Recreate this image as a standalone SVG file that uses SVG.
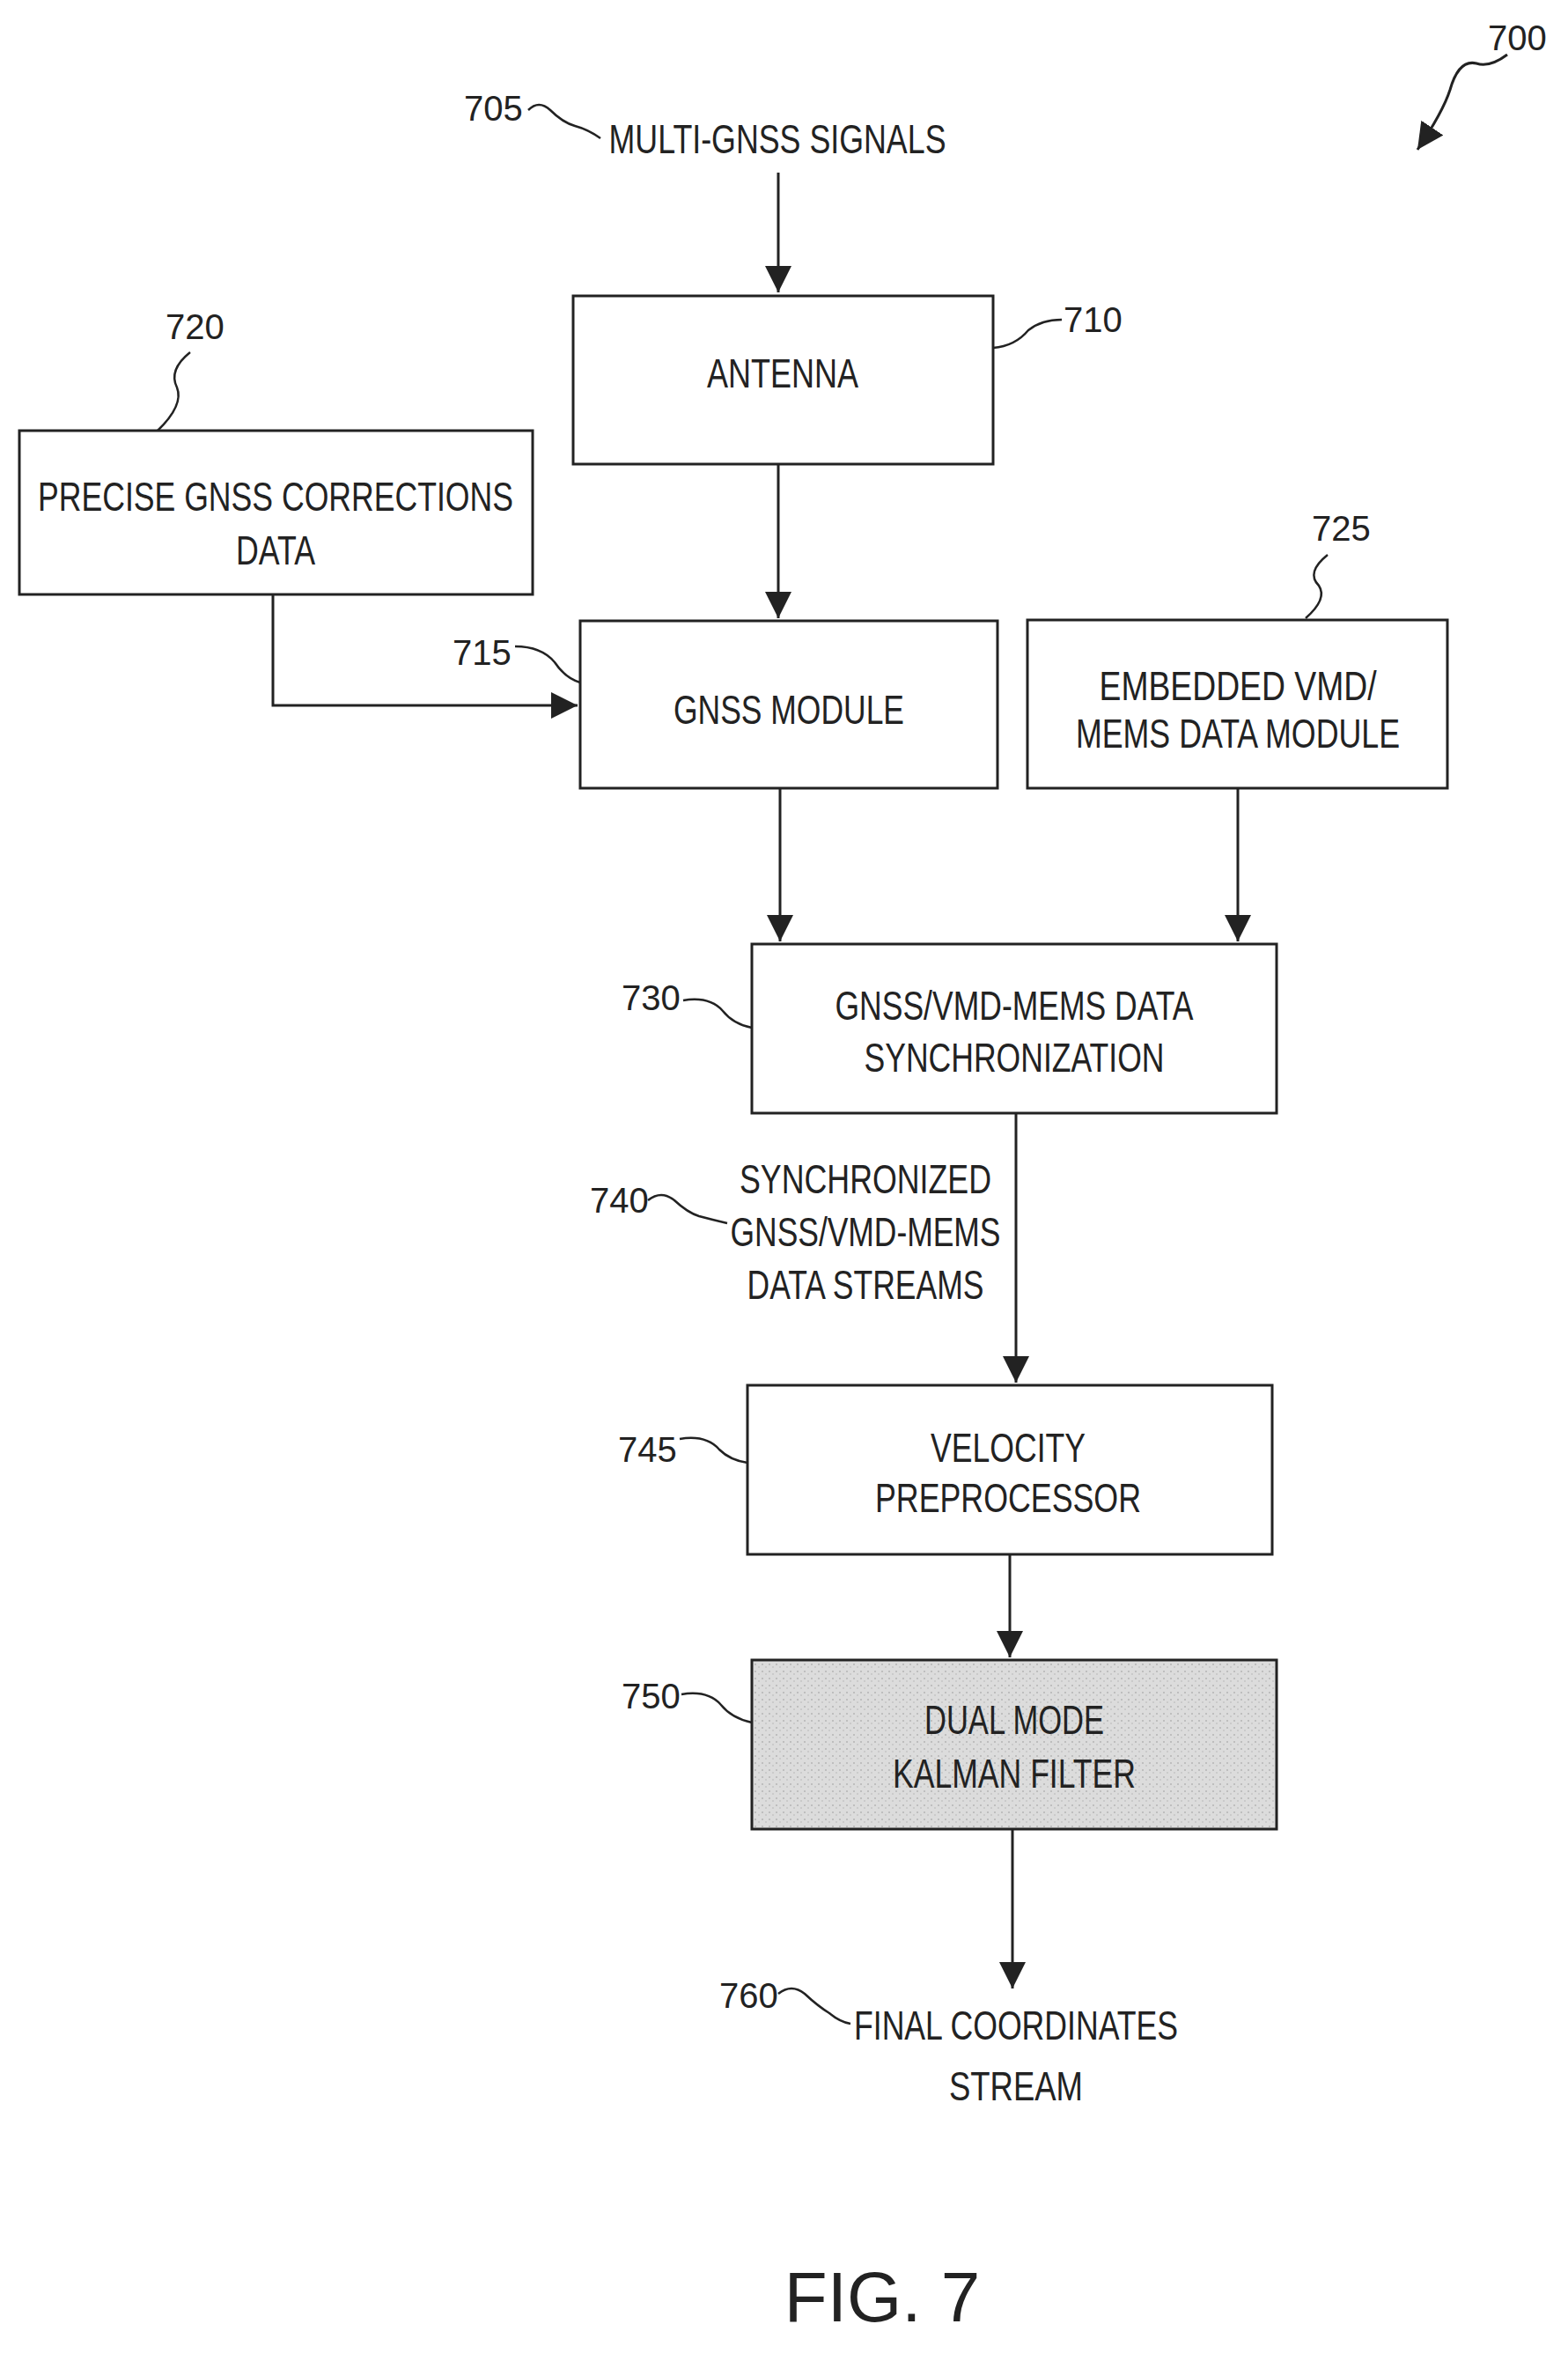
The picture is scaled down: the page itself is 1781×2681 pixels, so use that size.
<svg xmlns="http://www.w3.org/2000/svg" width="1781" height="2681" viewBox="0 0 1781 2681">
<defs>
<marker id="ah2" viewBox="0 0 10 10" refX="10" refY="5" markerWidth="30" markerHeight="30" markerUnits="userSpaceOnUse" orient="auto"><path d="M0,0 L10,5 L0,10 z" fill="#222"/></marker>
<pattern id="stip" width="8" height="8" patternUnits="userSpaceOnUse"><rect width="8" height="8" style="fill:#dcdcdc;stroke:none"/><circle cx="2" cy="2" r="0.8" fill="#999"/><circle cx="6" cy="5" r="0.7" fill="#aaa"/></pattern>
</defs>
<style>
.b{fill:#fff;stroke:#222;stroke-width:3}
.c{fill:none;stroke:#222;stroke-width:3}
.l{fill:none;stroke:#222;stroke-width:2.5}
text{font-family:"Liberation Sans",Arial,sans-serif;fill:#222}
.t{font-size:46px;text-anchor:middle}
.n{font-size:40px}
</style>
<rect x="0" y="0" width="1781" height="2681" style="fill:#fff;stroke:none"/>
<g id="connectors">
<path class="c" d="M884,196 V332" marker-end="url(#ah2)"/>
<path class="c" d="M884,527 V702" marker-end="url(#ah2)"/>
<path class="c" d="M310,675 V801 H656" marker-end="url(#ah2)"/>
<path class="c" d="M886,895 V1069" marker-end="url(#ah2)"/>
<path class="c" d="M1406,895 V1069" marker-end="url(#ah2)"/>
<path class="c" d="M1154,1264 V1570" marker-end="url(#ah2)"/>
<path class="c" d="M1147,1765 V1882" marker-end="url(#ah2)"/>
<path class="c" d="M1150,2077 V2258" marker-end="url(#ah2)"/>
<path class="c" d="M1712,62 q-20,15 -35,10 q-20,-5 -30,30 q-8,25 -37,68" marker-end="url(#ah2)"/>
</g>
<g id="n705"><text class="n" x="527" y="137">705</text><path class="l" d="M600,125 q12,-12 25,0 q14,14 28,18 q15,4 29,14"/><text class="t" x="883" y="174" textLength="383" lengthAdjust="spacingAndGlyphs">MULTI-GNSS SIGNALS</text></g>
<g id="n700"><text class="n" x="1690" y="57">700</text></g>
<g id="n710"><rect class="b" x="651" y="336" width="477" height="191"/><text class="t" x="889" y="440" textLength="172" lengthAdjust="spacingAndGlyphs">ANTENNA</text><path class="l" d="M1128,395 q25,-2 40,-20 q15,-12 38,-12"/><text class="n" x="1208" y="377">710</text></g>
<g id="n720"><rect class="b" x="22" y="489" width="583" height="186"/><text class="t" x="313" y="580" textLength="540" lengthAdjust="spacingAndGlyphs">PRECISE GNSS CORRECTIONS</text><text class="t" x="313" y="641" textLength="90" lengthAdjust="spacingAndGlyphs">DATA</text><path class="l" d="M216,400 q-25,20 -15,40 q8,20 -22,49"/><text class="n" x="188" y="385">720</text></g>
<g id="n715"><rect class="b" x="659" y="705" width="474" height="190"/><text class="t" x="896" y="822" textLength="262" lengthAdjust="spacingAndGlyphs">GNSS MODULE</text><path class="l" d="M585,734 q30,0 45,18 q12,18 29,23"/><text class="n" x="514" y="755">715</text></g>
<g id="n725"><rect class="b" x="1167" y="704" width="477" height="191"/><text class="t" x="1406" y="795" textLength="315" lengthAdjust="spacingAndGlyphs">EMBEDDED VMD/</text><text class="t" x="1406" y="849" textLength="368" lengthAdjust="spacingAndGlyphs">MEMS DATA MODULE</text><path class="l" d="M1508,630 q-25,20 -10,35 q10,15 -15,37"/><text class="n" x="1490" y="614">725</text></g>
<g id="n730"><rect class="b" x="854" y="1072" width="596" height="192"/><text class="t" x="1152" y="1158" textLength="407" lengthAdjust="spacingAndGlyphs">GNSS/VMD-MEMS DATA</text><text class="t" x="1152" y="1217" textLength="341" lengthAdjust="spacingAndGlyphs">SYNCHRONIZATION</text><path class="l" d="M776,1136 q30,-5 45,12 q12,15 33,19"/><text class="n" x="706" y="1147">730</text></g>
<g id="n740"><text class="t" x="983" y="1355" textLength="286" lengthAdjust="spacingAndGlyphs">SYNCHRONIZED</text><text class="t" x="983" y="1415" textLength="307" lengthAdjust="spacingAndGlyphs">GNSS/VMD-MEMS</text><text class="t" x="983" y="1475" textLength="269" lengthAdjust="spacingAndGlyphs">DATA STREAMS</text><path class="l" d="M736,1363 q15,-12 30,0 q15,14 28,18 q15,4 32,8"/><text class="n" x="670" y="1377">740</text></g>
<g id="n745"><rect class="b" x="849" y="1573" width="596" height="192"/><text class="t" x="1145" y="1660" textLength="176" lengthAdjust="spacingAndGlyphs">VELOCITY</text><text class="t" x="1145" y="1717" textLength="302" lengthAdjust="spacingAndGlyphs">PREPROCESSOR</text><path class="l" d="M772,1634 q30,-5 45,12 q12,12 32,15"/><text class="n" x="702" y="1660">745</text></g>
<g id="n750"><rect class="b" x="854" y="1885" width="596" height="192" style="fill:url(#stip)"/><text class="t" x="1152" y="1969" textLength="204" lengthAdjust="spacingAndGlyphs">DUAL MODE</text><text class="t" x="1152" y="2030" textLength="276" lengthAdjust="spacingAndGlyphs">KALMAN FILTER</text><path class="l" d="M774,1924 q30,-5 45,12 q12,15 35,20"/><text class="n" x="706" y="1940">750</text></g>
<g id="n760"><path class="l" d="M884,2264 q15,-12 30,0 q15,14 28,22 q12,10 24,12"/><text class="n" x="817" y="2280">760</text><text class="t" x="1154" y="2316" textLength="368" lengthAdjust="spacingAndGlyphs">FINAL COORDINATES</text><text class="t" x="1154" y="2385" textLength="152" lengthAdjust="spacingAndGlyphs">STREAM</text></g>
<text x="1002" y="2636" style="font-size:80px;text-anchor:middle">FIG. 7</text>
</svg>
